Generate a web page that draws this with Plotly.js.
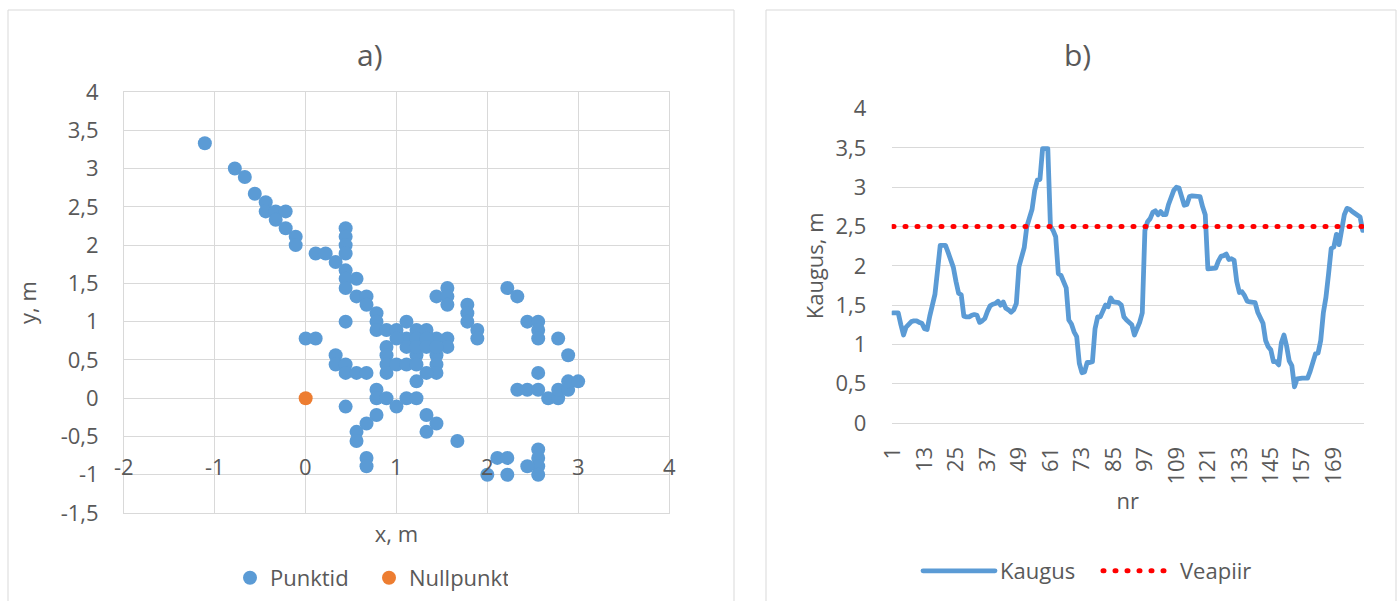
<!DOCTYPE html>
<html><head><meta charset="utf-8">
<script src="https://cdn.plot.ly/plotly-3.0.1.min.js"></script>
<style>
html,body{margin:0;padding:0;background:#fff;}
#chart{width:1400px;height:601px;}
path.js-line{stroke-linecap:round;stroke-linejoin:round;}
</style></head><body><div id="chart"></div>
<script>
// ---- Chart a) data ----
const punktX = [-1.11,-0.78,-0.67,-0.56,-0.44,-0.44,-0.33,-0.22,-0.33,-0.22,-0.11,-0.11,0.11,0.22,0.33,
  0.44,0.44,0.44,0.44,0.44,0.56,0.44,0.44,0.56,0.67,0.67,0.78,0.78,0.78,0.44,0.00,0.11,
  0.89,1.00,1.11,1.22,1.33,1.44,1.56,1.56,1.11,1.11,0.89,0.89,0.89,0.89,1.00,1.11,1.22,1.22,1.22,1.44,1.44,1.44,1.33,
  1.00,1.22,1.33,1.22,1.33,1.44,
  0.33,0.33,0.44,0.44,0.56,0.67,
  0.78,0.78,0.89,1.00,1.11,1.22,0.44,0.78,0.67,0.56,0.56,0.67,0.67,1.33,1.44,1.33,1.67,
  1.44,1.56,1.56,1.56,1.78,1.78,1.78,1.89,1.89,
  2.22,2.33,2.44,2.56,2.56,2.56,2.78,2.89,2.56,2.33,2.44,2.56,2.67,2.78,2.78,2.89,2.89,3.00,
  2.11,2.22,2.00,2.22,2.56,2.56,2.56,2.44,2.56];
const punktY = [3.33,3.00,2.89,2.67,2.56,2.44,2.44,2.44,2.33,2.22,2.11,2.00,1.89,1.89,1.78,
  2.22,2.11,2.00,1.89,1.67,1.56,1.56,1.44,1.33,1.33,1.22,1.11,1.00,0.89,1.00,0.78,0.78,
  0.89,0.89,1.00,0.89,0.89,0.78,0.78,0.67,0.78,0.67,0.67,0.56,0.44,0.33,0.44,0.44,0.56,0.44,0.22,0.56,0.44,0.33,0.33,
  0.78,0.78,0.78,0.67,0.67,0.67,
  0.56,0.44,0.44,0.33,0.33,0.33,
  0.11,0.00,0.00,-0.11,0.00,0.00,-0.11,-0.22,-0.33,-0.44,-0.56,-0.78,-0.89,-0.22,-0.33,-0.44,-0.56,
  1.33,1.44,1.33,1.22,1.22,1.11,1.00,0.89,0.78,
  1.44,1.33,1.00,1.00,0.89,0.78,0.78,0.56,0.33,0.11,0.11,0.11,0.00,0.00,0.11,0.11,0.22,0.22,
  -0.78,-0.78,-1.00,-1.00,-0.67,-0.78,-0.89,-0.89,-1.00];
const nullX = [0];
const nullY = [0];
const xTickValsA = [-2,-1,0,1,2,3,4];
const xTickTextA = ['-2','-1','0','1','2','3','4'];
const yTickValsA = [-1.5,-1,-0.5,0,0.5,1,1.5,2,2.5,3,3.5,4];
const yTickTextA = ['-1,5','-1','-0,5','0','0,5','1','1,5','2','2,5','3','3,5','4'];

// ---- Chart b) data ----
const kaugus = [1.40,1.40,1.40,1.25,1.12,1.22,1.26,1.29,1.30,1.30,1.28,1.27,1.20,1.19,1.36,1.48,1.64,1.95,2.26,2.26,
  2.26,2.17,2.08,1.98,1.80,1.65,1.63,1.36,1.35,1.35,1.37,1.38,1.37,1.28,1.30,1.33,1.42,1.49,1.51,1.52,
  1.55,1.50,1.54,1.46,1.44,1.41,1.44,1.52,1.99,2.12,2.23,2.50,2.60,2.72,2.96,3.09,3.10,3.49,3.49,3.49,
  2.50,2.45,2.37,1.90,1.88,1.81,1.72,1.31,1.26,1.16,1.10,0.76,0.64,0.65,0.77,0.77,0.78,1.20,1.35,1.35,
  1.41,1.50,1.48,1.59,1.54,1.54,1.53,1.50,1.35,1.31,1.27,1.25,1.12,1.20,1.28,1.40,2.45,2.56,2.60,2.68,
  2.70,2.65,2.69,2.65,2.65,2.78,2.89,2.96,3.00,2.99,2.88,2.77,2.78,2.88,2.89,2.89,2.89,2.88,2.75,2.65,
  1.96,1.96,1.96,1.97,2.06,2.12,2.13,2.15,2.08,2.09,2.07,1.80,1.66,1.67,1.62,1.55,1.54,1.54,1.53,1.41,
  1.33,1.27,1.05,0.97,0.93,0.78,0.78,0.74,1.02,1.12,0.98,0.79,0.73,0.46,0.56,0.57,0.57,0.57,0.57,0.66,
  0.77,0.88,0.89,1.05,1.40,1.60,1.90,2.22,2.24,2.40,2.27,2.48,2.65,2.73,2.72,2.69,2.67,2.65,2.62,2.45];
const nr = kaugus.map((v, i) => i + 1);
const veapiirX = [1, 180];
const veapiirY = [2.5, 2.5];
const nrTickVals = [1,13,25,37,49,61,73,85,97,109,121,133,145,157,169];
const nrTickText = nrTickVals.map(String);
const kTickVals = [0,0.5,1,1.5,2,2.5,3,3.5,4];
const kTickText = ['0','0,5','1','1,5','2','2,5','3','3,5','4'];

const W = 1400, H = 601;
const px = v => v / W;
const py = v => 1 - v / H;
const FONT = 'Open Sans, sans-serif';
const GRAY = '#595959';
const GRID = '#D9D9D9';
const FS = 22;

const traces = [
  {type:'scatter', mode:'markers', name:'Punktid', x:punktX, y:punktY, xaxis:'x', yaxis:'y',
   marker:{color:'#5B9BD5', size:14}, legend:'legend', cliponaxis:false},
  {type:'scatter', mode:'markers', name:'Nullpunkt', x:nullX, y:nullY, xaxis:'x', yaxis:'y',
   marker:{color:'#ED7D31', size:14}, legend:'legend', cliponaxis:false},
  {type:'scatter', mode:'lines', name:'Kaugus', x:nr, y:kaugus, xaxis:'x2', yaxis:'y2',
   line:{color:'#5B9BD5', width:4.8}, legend:'legend2'},
  {type:'scatter', mode:'lines', name:'Veapiir', x:veapiirX, y:veapiirY, xaxis:'x2', yaxis:'y2',
   line:{color:'#FF0000', width:5, dash:'1px,11px'}, legend:'legend2'}
];

const annotations = xTickValsA.map((v, i) => ({
  xref:'x', yref:'y', x:v, y:-1, yshift:9, text:xTickTextA[i], showarrow:false,
  font:{family:FONT, size:FS, color:GRAY}, xanchor:'center', yanchor:'middle'
}));
annotations.push(
  {xref:'paper', yref:'paper', x:px(370), y:py(54), text:'a)', showarrow:false,
   font:{family:FONT, size:30, color:GRAY}, xanchor:'center', yanchor:'middle'},
  {xref:'paper', yref:'paper', x:px(1077), y:py(54), text:'b)', showarrow:false,
   font:{family:FONT, size:30, color:GRAY}, xanchor:'center', yanchor:'middle'}
);

const layout = {
  width:W, height:H, margin:{l:0,r:0,t:0,b:0}, paper_bgcolor:'#fff', plot_bgcolor:'#fff',
  separators:', ', showlegend:true,
  font:{family:FONT, size:FS, color:GRAY},
  xaxis:{domain:[px(124), px(669)], range:[-2,4], dtick:1, tick0:0, showticklabels:false,
    showgrid:true, gridcolor:GRID, zeroline:false, showline:true, linecolor:GRID, mirror:true,
    anchor:'y', fixedrange:true,
    title:{text:'x, m', font:{family:FONT, size:FS, color:GRAY}, standoff:13}},
  yaxis:{domain:[py(513), py(92)], range:[-1.5,4], tickvals:yTickValsA, ticktext:yTickTextA,
    ticks:'outside', ticklen:20, tickcolor:'rgba(0,0,0,0)',
    showgrid:true, gridcolor:GRID, zeroline:false, showline:true, linecolor:GRID, mirror:true,
    anchor:'x', fixedrange:true, tickfont:{family:FONT, size:FS, color:GRAY},
    title:{text:'y, m', font:{family:FONT, size:FS, color:GRAY}, standoff:17}},
  xaxis2:{domain:[px(891.7), px(1364)], range:[0.5,180.5], tickvals:nrTickVals, ticktext:nrTickText,
    tickangle:-90, ticks:'outside', ticklen:14, tickcolor:'rgba(0,0,0,0)',
    showgrid:false, zeroline:false, showline:true, linecolor:GRID, anchor:'y2', fixedrange:true,
    tickfont:{family:FONT, size:FS, color:GRAY},
    title:{text:'nr', font:{family:FONT, size:FS, color:GRAY}, standoff:10}},
  yaxis2:{domain:[py(423), py(108.6)], range:[0,4], tickvals:kTickVals, ticktext:kTickText,
    ticks:'outside', ticklen:20, tickcolor:'rgba(0,0,0,0)',
    showgrid:true, gridcolor:GRID, zeroline:false, showline:false, anchor:'x2', fixedrange:true,
    tickfont:{family:FONT, size:FS, color:GRAY},
    title:{text:'Kaugus, m', font:{family:FONT, size:FS, color:GRAY}, standoff:5}},
  legend:{orientation:'h', x:px(369), xanchor:'center', y:py(578), yanchor:'middle',
    font:{family:FONT, size:FS, color:GRAY}, bgcolor:'rgba(0,0,0,0)', entrywidth:94,
    itemclick:false, itemdoubleclick:false},
  legend2:{orientation:'h', x:px(1098), xanchor:'center', y:py(571), yanchor:'middle',
    font:{family:FONT, size:FS, color:GRAY}, bgcolor:'rgba(0,0,0,0)', itemwidth:72, entrywidth:93,
    itemclick:false, itemdoubleclick:false},
  shapes:[
    {type:'rect', xref:'paper', yref:'paper', x0:px(8), x1:px(734), y0:-0.1, y1:py(10),
     line:{color:GRID, width:1}, layer:'below'},
    {type:'rect', xref:'paper', yref:'paper', x0:px(766), x1:px(1396), y0:-0.1, y1:py(10),
     line:{color:GRID, width:1}, layer:'below'}
  ],
  annotations:annotations
};

Plotly.newPlot('chart', traces, layout, {staticPlot:true, displayModeBar:false}).then(() => {
  // lengthen legend line samples to match the reference legend
  const lens = [72, 65];
  document.querySelectorAll('g.legend2 g.traces').forEach((g, i) => {
    const p = g.querySelector('path.js-line');
    if (p) p.setAttribute('d', 'M5,0h' + lens[i]);
  });
});
</script></body></html>
